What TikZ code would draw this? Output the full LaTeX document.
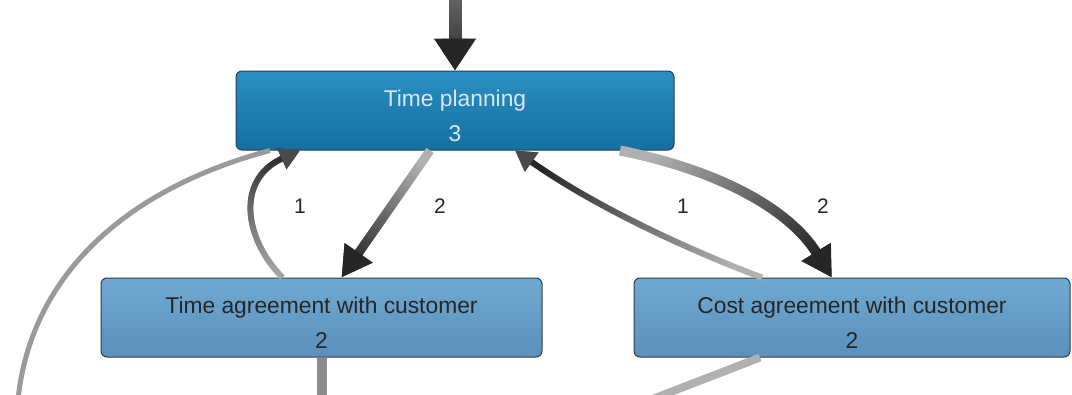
\documentclass[tikz,border=0pt]{standalone}
\usepackage{fontspec}
\setmainfont{Liberation Sans}
\usetikzlibrary{arrows.meta,fadings}
\definecolor{planTop}{HTML}{2B8EC2}
\definecolor{planBottom}{HTML}{1470A2}
\definecolor{agreeTop}{HTML}{71A9D1}
\definecolor{agreeBottom}{HTML}{5A90BB}
\definecolor{boxBorder}{HTML}{2E3C48}
\definecolor{planText}{HTML}{D8E8F2}
\definecolor{edgeDark}{HTML}{262626}
\definecolor{edgeMid}{HTML}{4A4A4A}
\definecolor{edgeLight}{HTML}{B0B0B0}
\definecolor{edgeGrey}{HTML}{9A9A9A}
\definecolor{edgeEntry}{HTML}{6A6A6A}
\tikzfading[name=edgefade, left color=transparent!100, right color=transparent!0]
\newcommand{\toppad}{\rule{0pt}{27pt}}

\begin{document}
\begin{tikzpicture}[
  x=1pt, y=-1pt,
  font=\fontsize{22.8}{35}\selectfont,
  activity/.style={draw=boxBorder, rounded corners=6pt, line width=1pt,
    minimum height=79pt, align=center, inner sep=0pt},
  planbox/.style={activity, top color=planTop, bottom color=planBottom, text=planText},
  agreebox/.style={activity, top color=agreeTop, bottom color=agreeBottom, text=black!85},
  flow/.style={line width=#1, draw=edgeLight},
  fadeover/.style={postaction={draw=edgeDark, path fading=edgefade, fading angle=#1}},
  bighead/.style={-{Triangle[width=40pt, length=32pt, color=edgeDark]}},
  midhead/.style={-{Triangle[width=32pt, length=30pt, color=edgeDark]}},
  smallhead/.style={-{Triangle[width=22pt, length=20pt, color=edgeMid]}},
  count/.style={font=\fontsize{21}{24}\selectfont, text=black!85},
]
\useasboundingbox (0,0) rectangle (1072,394);
\clip (0,0) rectangle (1072,394);

% activities
\node[planbox, minimum width=438pt] (tp) at (455,110.5) {\toppad Time planning\\3};
\node[agreebox, minimum width=441pt] (ta) at (321.5,317.5) {\toppad Time agreement with customer\\2};
\node[agreebox, minimum width=436pt] (ca) at (852,317.5) {\toppad Cost agreement with customer\\2};

% loose ends leaving the view
\coordinate (entry) at (455,-4);
\coordinate (outleft) at (18,400);
\coordinate (outta) at (321.5,400);
\coordinate (outca) at (650,400);

% incoming flow
\draw[flow=13, draw=edgeEntry, bighead, fadeover=-90] (entry) -- (tp.north);

% time planning <-> time agreement
\draw[flow=9, midhead, fadeover=-124.8] ([xshift=-25]tp.south) -- ([xshift=20]ta.north);
\draw[flow=6, smallhead, fadeover=82]
  ([xshift=-39]ta.north) .. controls +(-38,-38) and +(-65,29) .. ([xshift=-155]tp.south);

% time planning <-> cost agreement
\draw[flow=10, midhead, fadeover=-31.1]
  ([xshift=165]tp.south) .. controls +(100,20) and +(-42,-68) .. ([xshift=-20]ca.north);
\draw[flow=6, smallhead, fadeover=152.8]
  ([xshift=-90]ca.north) .. controls +(-62,-23) and +(85,60) .. ([xshift=60]tp.south);

% outgoing flows
\draw[flow=5, draw=edgeGrey] ([xshift=-185]tp.south) .. controls +(-150,40) and +(12,-120) .. (outleft);
\draw[flow=10, draw=edgeGrey!90!black] (ta.south) -- (outta);
\draw[flow=8] ([xshift=-92]ca.south) -- (outca);

% frequencies
\node[count] (f1) at (300,206) {1};
\node[count] (f2) at (440,206) {2};
\node[count] (f3) at (683,206) {1};
\node[count] (f4) at (823,206) {2};

\end{tikzpicture}
\end{document}
